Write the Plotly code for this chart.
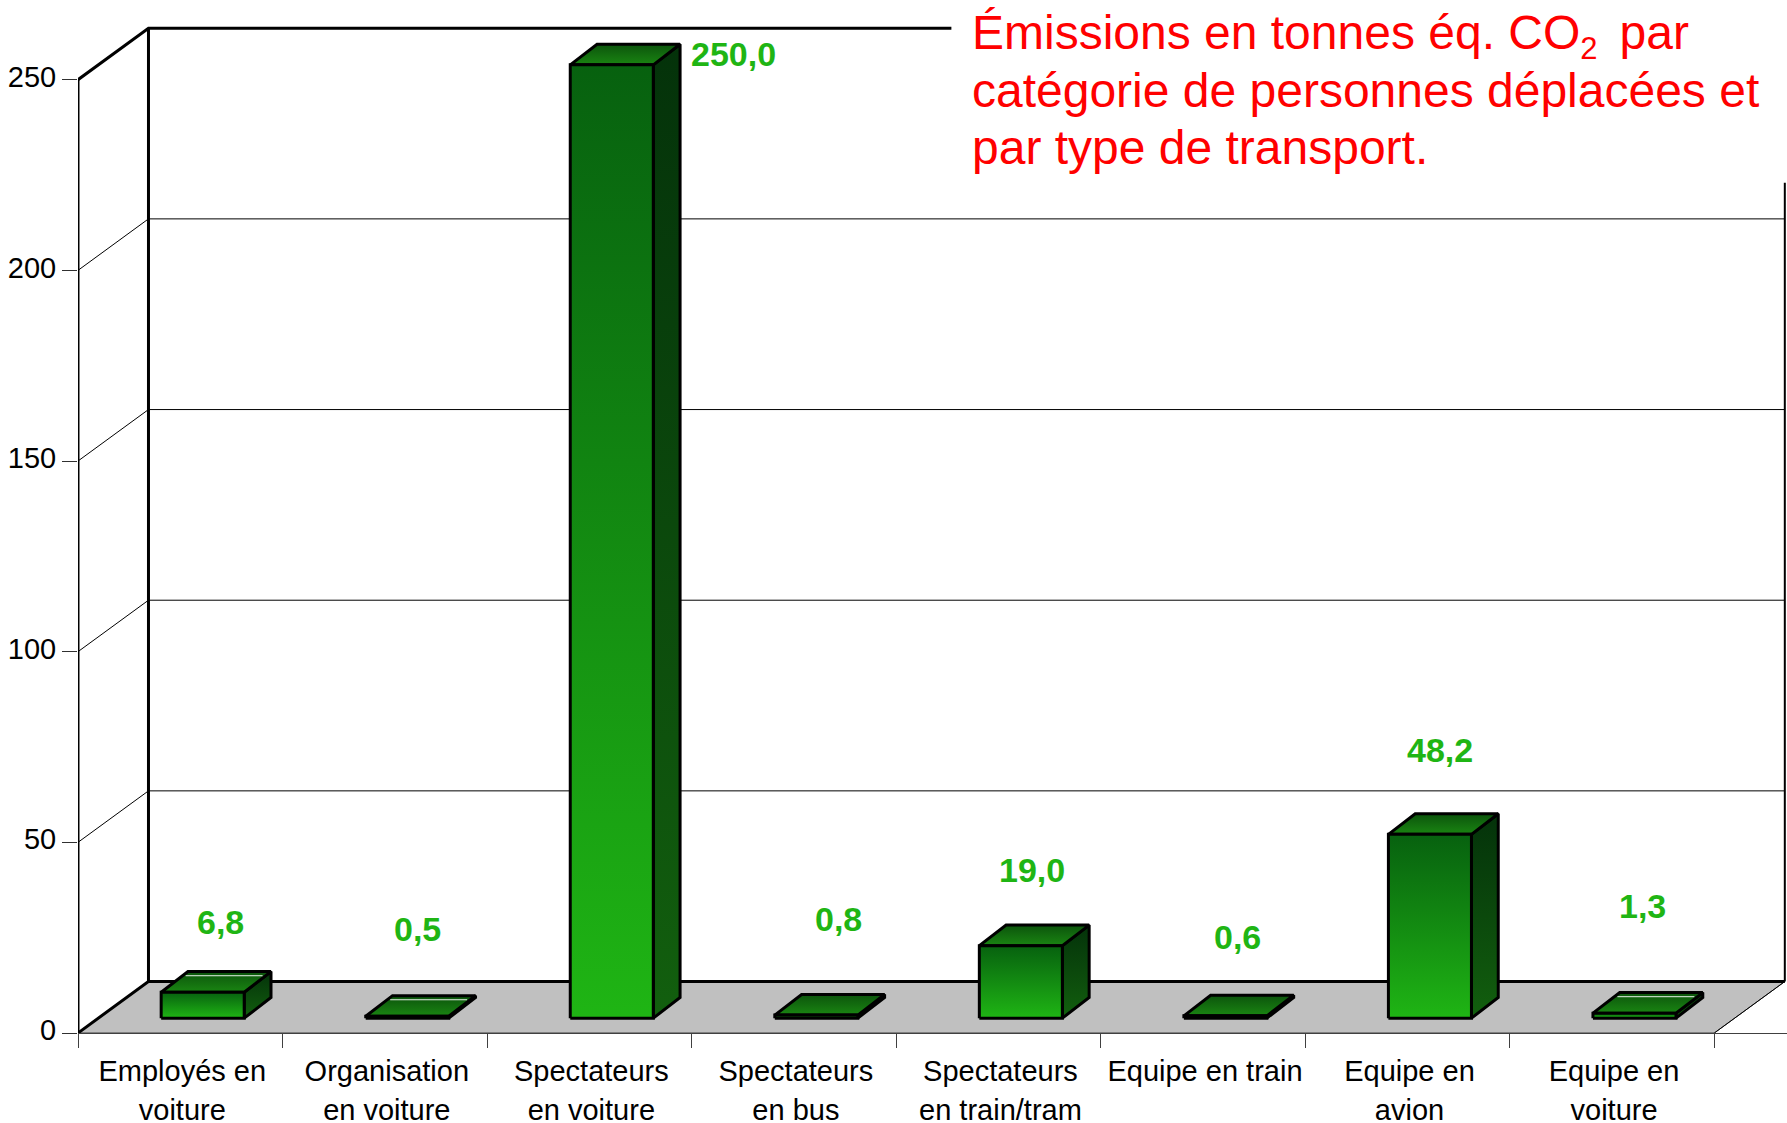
import plotly.graph_objects as go

categories = ["Employés en<br>voiture", "Organisation<br>en voiture", "Spectateurs<br>en voiture",
              "Spectateurs<br>en bus", "Spectateurs<br>en train/tram", "Equipe en train",
              "Equipe en<br>avion", "Equipe en<br>voiture"]
values = [6.8, 0.5, 250.0, 0.8, 19.0, 0.6, 48.2, 1.3]
value_labels = ["6,8", "0,5", "250,0", "0,8", "19,0", "0,6", "48,2", "1,3"]
y_ticks = [0, 50, 100, 150, 200, 250]

# hand placed data labels in the original, pixels from the top of each bar
label_dx = [18, 10, 122, 22, 11, 12, 10, 8]
label_dy = [70, 87, 11, 96, 76, 79, 84, 107]
has_glint = [True, True, False, False, False, False, False, True]

W, H = 1787, 1123
LEFT, ZERO = 77.5, 1033.5
PX_X, PX_Y = 204.6, 3.815

# fake 3d: depth of the chart box and of the bars, in axis units
WALL_DX, WALL_DY = 0.3446, 13.5
BAR_X0, BAR_W = 0.4066, 0.406
BAR_BASE = 3.9
BAR_DX, BAR_DY = 0.131, 5.4
N = len(categories)

FONT = "Liberation Sans"
GREEN = "#1fb514"


def line_trace(xs, ys, color="black", width=1):
    return go.Scatter(x=xs, y=ys, mode="lines", line=dict(color=color, width=width),
                      hoverinfo="skip", showlegend=False)


def face(xs, ys, c_low, c_high, text=None):
    return go.Scatter(x=xs, y=ys, mode="lines", fill="toself",
                      line=dict(color="black", width=3),
                      fillgradient=dict(type="vertical", colorscale=[[0, c_low], [1, c_high]]),
                      hoverinfo="text" if text else "skip", text=text, showlegend=False)


fig = go.Figure()

# floor
fig.add_trace(go.Scatter(x=[0, N, N + WALL_DX, WALL_DX, 0], y=[0, 0, WALL_DY, WALL_DY, 0],
                         mode="lines", fill="toself", fillcolor="#c0c0c0",
                         line=dict(color="#404040", width=1), hoverinfo="skip", showlegend=False))

# gridlines on the back wall and their diagonals on the left wall
grid_x, grid_y = [], []
for t in y_ticks[1:-1]:
    grid_x += [0, WALL_DX, N + WALL_DX, None]
    grid_y += [t, t + WALL_DY, t + WALL_DY, None]
fig.add_trace(line_trace(grid_x, grid_y))

# frame
top = y_ticks[-1]
fig.add_trace(line_trace([WALL_DX, N + WALL_DX], [WALL_DY, WALL_DY], "black", 3))
fig.add_trace(line_trace([0, 0], [0, top], "black", 3))
fig.add_trace(line_trace([0, WALL_DX, WALL_DX], [0, WALL_DY, top + WALL_DY], "black", 3))
fig.add_trace(line_trace([0, WALL_DX, 4.27], [top, top + WALL_DY, top + WALL_DY], "black", 3))
fig.add_trace(line_trace([N, N + WALL_DX], [0, WALL_DY], "black", 1))
fig.add_trace(line_trace([N + WALL_DX, N + WALL_DX], [WALL_DY, 223], "black", 2))

# bars
annotations = []
for i, v in enumerate(values):
    x0 = i + BAR_X0
    x1 = x0 + BAR_W
    y0 = BAR_BASE
    y1 = BAR_BASE + v
    fig.add_trace(face([x1, x1 + BAR_DX, x1 + BAR_DX, x1, x1],
                       [y0, y0 + BAR_DY, y1 + BAR_DY, y1, y0], "#125f0e", "#04320a"))
    fig.add_trace(face([x0, x1, x1 + BAR_DX, x0 + BAR_DX, x0],
                       [y1, y1, y1 + BAR_DY, y1 + BAR_DY, y1], "#1a8512", "#0c540c"))
    fig.add_trace(face([x0, x1, x1, x0, x0], [y0, y0, y1, y1, y0], "#1fb514", "#07610f",
                       text=value_labels[i]))
    if has_glint[i]:
        fig.add_trace(line_trace([x0 + 0.8 * BAR_DX + 0.015, x1 + 0.8 * BAR_DX - 0.015],
                                 [y1 + 0.8 * BAR_DY, y1 + 0.8 * BAR_DY], "#e8f0e8", 1))
    annotations.append(dict(x=(x0 + x1) / 2, y=y1, xref="x", yref="y", text=value_labels[i],
                            showarrow=False, xshift=label_dx[i], yshift=label_dy[i],
                            xanchor="center", yanchor="middle",
                            font=dict(family=FONT, size=34, color=GREEN, weight="bold")))

title_lines = ['Émissions en tonnes éq. CO<sub><span style="font-size:31px">2&nbsp;</span></sub> par',
               "catégorie de personnes déplacées et",
               "par type de transport."]
annotations.append(dict(x=(970 - LEFT) / (W - LEFT), y=1.0, xref="paper", yref="paper", yshift=-4,
                        text="<br>".join('<span style="font-size:48px">%s</span>' % t for t in title_lines),
                        showarrow=False, align="left", xanchor="left", yanchor="top",
                        font=dict(family=FONT, size=44.4, color="#ff0000")))

fig.update_layout(
    width=W, height=H,
    margin=dict(l=LEFT, r=0, t=0, b=H - ZERO, pad=0),
    paper_bgcolor="white", plot_bgcolor="white",
    showlegend=False,
    annotations=annotations,
    font=dict(family=FONT, color="black"),
    xaxis=dict(range=[0, (W - LEFT) / PX_X], showgrid=False, zeroline=False, automargin=False,
               showline=True, linecolor="#404040", linewidth=1,
               tickmode="array", tickvals=[i + 0.5 for i in range(N)],
               ticktext=['<span style="font-size:29px">%s</span>' % c.replace("<br>", '</span><br><span style="font-size:29px">') for c in categories],
               ticks="", tickfont=dict(family=FONT, size=30, color="black"),
               ticklabelstandoff=11, ticklabelshift=2,
               minor=dict(tickmode="array", tickvals=list(range(N + 1)), ticks="outside",
                          ticklen=14, tickwidth=1, tickcolor="#404040", showgrid=False)),
    yaxis=dict(range=[0, ZERO / PX_Y], showgrid=False, zeroline=False, showline=False, automargin=False,
               tickmode="array", tickvals=y_ticks, ticktext=[str(t) for t in y_ticks],
               ticks="outside", ticklen=15, tickwidth=1, tickcolor="#303030",
               tickfont=dict(family=FONT, size=29, color="black"),
               ticklabelshift=-3),
)

# the default page has a body margin that pushes the chart off the window
fig.write_html("out.html", config=dict(displayModeBar=False),
               post_script="document.body.style.margin='0';")
